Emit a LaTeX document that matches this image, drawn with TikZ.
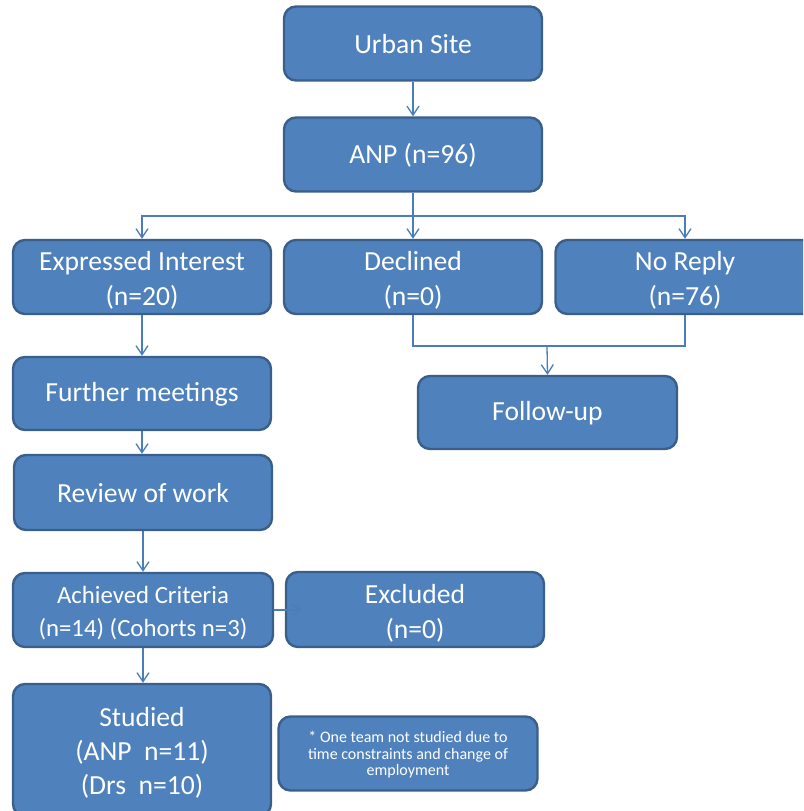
\documentclass[tikz,border=0pt]{standalone}
\usepackage{fontspec}
\setmainfont{Carlito}
\usetikzlibrary{arrows.meta}
\definecolor{boxfill}{HTML}{4F81BD}
\definecolor{boxedge}{HTML}{3A5F8B}
\definecolor{linecol}{HTML}{4A7EBB}
\newcommand{\lift}[1]{\rule{0pt}{#1}}
\begin{document}
\begin{tikzpicture}[x=1pt,y=-1pt,
  box/.style={draw=boxedge,fill=boxfill,line width=2.4pt,rounded corners=12pt,
    text=white,align=center,inner sep=0pt,minimum width=258pt,minimum height=74pt,
    font=\fontsize{27.6}{35}\selectfont},
  conn/.style={draw=linecol,line width=1.3pt},
  arr/.style={conn,-{Straight Barb[length=9pt,width=12pt,line width=1.3pt]}}]
\path[use as bounding box] (0,0) rectangle (803,811);
\clip (0,0) rectangle (803,811);
\node[box] (urban) at (413,43.5) {\lift{21pt}Urban Site};
\node[box] (anp) at (413,154.5) {\lift{21pt}ANP (n=96)};
\node[box] (expr) at (142,277) {\lift{26pt}Expressed Interest\\(n=20)};
\node[box] (decl) at (413,277) {\lift{26pt}Declined\\(n=0)};
\node[box,minimum width=259pt] (norep) at (685,277) {\lift{26pt}No Reply\\(n=76)};
\node[box,minimum width=259pt,minimum height=73pt] (follow) at (547.5,412.5) {\lift{21pt}Follow-up};
\node[box,minimum height=73pt] (further) at (142,393.5) {\lift{21pt}Further meetings};
\node[box,minimum height=75pt] (review) at (143,492.5) {\lift{21pt}Review of work};
\node[box,minimum width=260pt,font=\fontsize{24.8}{33}\selectfont] (ach) at (143,610) {\lift{24pt}Achieved Criteria\\(n=14) (Cohorts n=3)};
\node[box,minimum height=75pt] (excl) at (415,609.5) {\lift{26pt}Excluded\\(n=0)};
\node[box,minimum height=132pt,font=\fontsize{27.6}{34}\selectfont] (stud) at (142,750) {\lift{24pt}Studied\\(ANP\ \ n=11)\\(Drs\ \ n=10)};
\node[box,minimum width=259pt,font=\fontsize{16}{16.5}\selectfont] (note) at (408,753.5) {\lift{14pt}* One team not studied due to\\time constraints and change of\\employment};
\coordinate (br) at (413,216);
\coordinate (jn) at (547,346);
\draw[arr] (urban) -- (anp);
\draw[conn] (anp.south) -- (br);
\draw[arr] (br) -| (expr.north);
\draw[arr] (br) -- (decl.north);
\draw[arr] (br) -| (norep.north);
\draw[conn] (decl.south) |- (jn);
\draw[conn] (norep.south) |- (jn);
\draw[arr] (jn) -- (follow.north);
\draw[arr] (expr) -- (further);
\draw[arr] (further.south) -- (further.south |- review.north);
\draw[arr] (review.south) -- (review.south |- ach.north);
\draw[arr] (ach.south) -- (ach.south |- stud.north);
\draw[arr] (ach.east) -- ([xshift=17pt]excl.west |- ach.east);
\end{tikzpicture}
\end{document}
